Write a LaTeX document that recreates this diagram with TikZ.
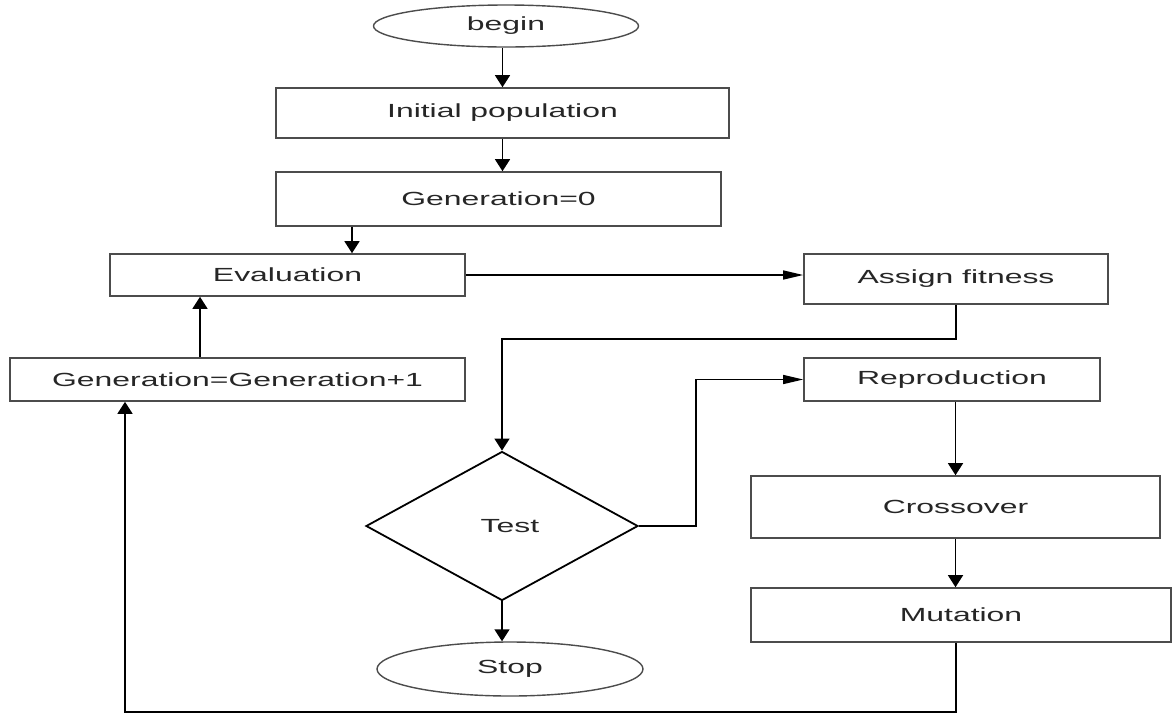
\documentclass[tikz,border=0pt]{standalone}
\usepackage{fontspec}
\newfontfamily\flowfont[FakeStretch=1.68]{Liberation Sans}
\usetikzlibrary{shapes.geometric, arrows.meta, calc}

\begin{document}
\begin{tikzpicture}[
    x=1pt, y=-1pt,
    every node/.style={font=\flowfont\fontsize{19}{22}\selectfont, text=black!85},
    box/.style={rectangle, draw=black!70, line width=1.6pt, inner sep=0pt},
    term/.style={ellipse, draw=black!70, line width=1.4pt, inner sep=0pt},
    decision/.style={diamond, draw=black, line width=1.8pt, inner sep=0pt},
    arrv/.style={-{Triangle[length=12pt, width=15pt]}, line width=1.4pt},
    arrh/.style={-{Triangle[length=20pt, width=9pt]}, line width=1.4pt},
    link/.style={line width=1.4pt}
]
    \useasboundingbox (0,0) rectangle (1172,713);

    % Nodes
    \node[term, minimum width=265pt, minimum height=42pt] (start) at (506,26) {begin};
    \node[box, minimum width=453pt, minimum height=50pt] (init) at (502.5,113) {Initial population};
    \node[box, minimum width=445pt, minimum height=54pt] (gen0) at (498.5,199) {Generation=0};
    \node[box, minimum width=355pt, minimum height=42pt] (eval) at (287.5,275) {Evaluation};
    \node[box, minimum width=304pt, minimum height=50pt] (assign) at (956,279) {Assign fitness};
    \node[box, minimum width=455pt, minimum height=43pt] (geninc) at (237.5,379.5) {Generation=Generation+1};
    \node[box, minimum width=296pt, minimum height=43pt] (repro) at (952,379.5) {Reproduction};
    \node[decision, minimum width=272pt, minimum height=149pt] (test) at (502,526) {\hspace{16pt}Test};
    \node[term, minimum width=266pt, minimum height=54pt] (stop) at (510,669) {Stop};
    \node[box, minimum width=409pt, minimum height=62pt] (cross) at (955.5,507) {Crossover};
    \node[box, minimum width=420pt, minimum height=54pt] (mut) at (961,615) {Mutation};

    % Arrows
    \draw[arrv] (start.south -| init.north) -- (init.north);
    \draw[arrv] (init.south) -- (init.south |- gen0.north);
    \draw[arrv] ([xshift=-146.5pt]gen0.south) -- ([xshift=-146.5pt]gen0.south |- eval.north);
    \draw[arrh] (eval.east) -- (eval.east -| assign.west);
    \draw[arrv] (assign.south) -- ++(0,34) -| (test.north);
    \draw[arrh] (test.east) -- ++(57,0) |- (repro.west);
    \draw[arrv] ([xshift=-37.5pt]geninc.north) -- ([xshift=-37.5pt]geninc.north |- eval.south);
    \draw[arrv] (test.south) -- (test.south |- stop.north);
    \draw[arrv] (cross.north |- repro.south) -- (cross.north);
    \draw[arrv] (cross.south) -- (cross.south |- mut.north);
    \draw[arrv] ([xshift=-5pt]mut.south) -- ++(0,69) -| ([xshift=-112.5pt]geninc.south);

\end{tikzpicture}
\end{document}
